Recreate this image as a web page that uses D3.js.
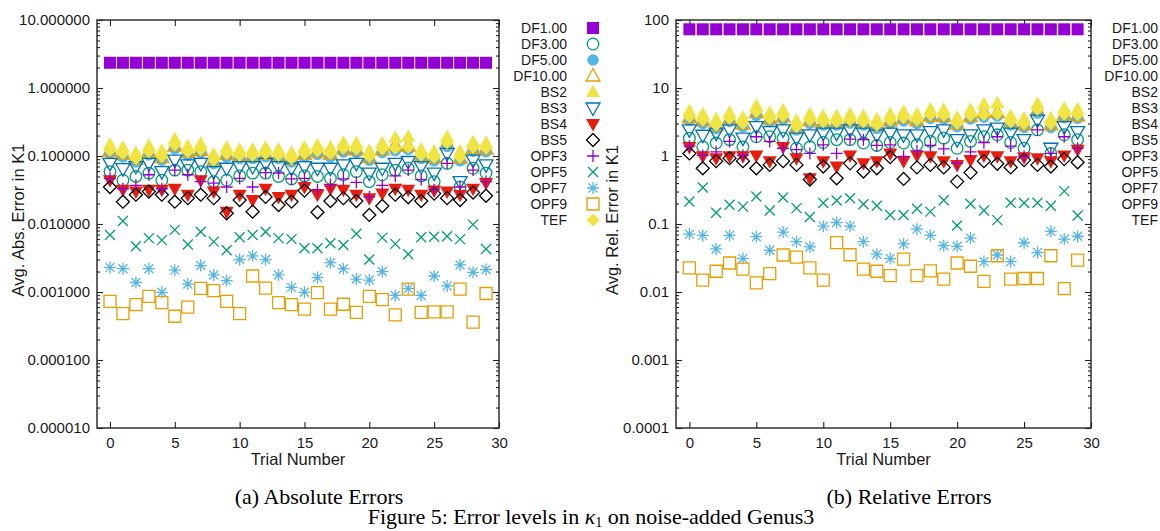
<!DOCTYPE html>
<html>
<head>
<meta charset="utf-8">
<script src="https://cdn.jsdelivr.net/npm/d3@7"></script>
<style>
body { margin: 0; background: #fff; }
svg text { font-family: "Liberation Sans", Arial, sans-serif; fill: #1a1a1a; }
.caption { font-family: "Liberation Serif", "Times New Roman", serif; font-size: 22px; fill: #000; }
</style>
</head>
<body>
<svg id="chart" width="1160" height="531"></svg>
<script>
// trial numbers on the x axis
const trials = [0,1,2,3,4,5,6,7,8,9,10,11,12,13,14,15,16,17,18,19,20,21,22,23,24,25,26,27,28,29];
const xTicks = [0,5,10,15,20,25,30];
const absTicks = [0.00001,0.0001,0.001,0.01,0.1,1,10];
const relTicks = [0.0001,0.001,0.01,0.1,1,10,100];
const seriesNames = ['DF1.00','DF3.00','DF5.00','DF10.00','BS2','BS3','BS4','BS5','OPF3','OPF5','OPF7','OPF9','TEF'];

// (a) average absolute error
const absDF1 = [2.35,2.35,2.35,2.35,2.35,2.35,2.35,2.35,2.35,2.35,2.35,2.35,2.35,2.35,2.35,2.35,2.35,2.35,2.35,2.35,2.35,2.35,2.35,2.35,2.35,2.35,2.35,2.35,2.35,2.35];
const absDF3 = [0.059,0.044,0.050,0.056,0.044,0.062,0.062,0.059,0.042,0.044,0.051,0.056,0.056,0.050,0.046,0.051,0.050,0.047,0.053,0.059,0.042,0.053,0.062,0.066,0.051,0.042,0.078,0.035,0.066,0.056];
const absDF5 = [0.109,0.097,0.082,0.104,0.087,0.128,0.103,0.112,0.078,0.097,0.092,0.092,0.098,0.092,0.082,0.097,0.106,0.097,0.115,0.113,0.087,0.113,0.120,0.125,0.092,0.085,0.138,0.085,0.118,0.116];
const absDF10 = [0.118,0.106,0.090,0.113,0.095,0.140,0.113,0.121,0.085,0.106,0.100,0.100,0.106,0.100,0.090,0.106,0.116,0.106,0.126,0.123,0.095,0.123,0.142,0.140,0.100,0.093,0.152,0.093,0.129,0.126];
const absBS2 = [0.148,0.133,0.112,0.140,0.119,0.176,0.140,0.152,0.106,0.133,0.125,0.125,0.133,0.125,0.112,0.133,0.144,0.133,0.157,0.154,0.119,0.154,0.186,0.192,0.125,0.116,0.190,0.116,0.161,0.157];
const absBS3 = [0.078,0.065,0.070,0.078,0.059,0.087,0.074,0.078,0.059,0.066,0.070,0.070,0.078,0.070,0.066,0.070,0.066,0.066,0.074,0.078,0.056,0.066,0.078,0.083,0.070,0.056,0.109,0.042,0.087,0.074];
const absBS4 = [0.044,0.032,0.030,0.032,0.032,0.033,0.027,0.044,0.030,0.0152,0.027,0.0225,0.033,0.025,0.027,0.035,0.027,0.033,0.032,0.027,0.024,0.028,0.033,0.032,0.027,0.031,0.030,0.027,0.033,0.040];
const absBS5 = [0.035,0.0213,0.027,0.030,0.027,0.0213,0.024,0.027,0.024,0.0144,0.0225,0.0152,0.025,0.019,0.0213,0.031,0.0149,0.0218,0.024,0.0218,0.0136,0.0184,0.027,0.0247,0.0218,0.028,0.024,0.0225,0.029,0.026];
const absOPF3 = [0.047,0.033,0.037,0.053,0.033,0.062,0.053,0.042,0.040,0.035,0.047,0.035,0.057,0.056,0.046,0.047,0.032,0.038,0.046,0.041,0.025,0.037,0.051,0.062,0.045,0.032,0.078,0.035,0.062,0.042];
const absOPF5 = [0.0069,0.0111,0.0047,0.0062,0.0058,0.0082,0.0050,0.0077,0.0055,0.0041,0.0064,0.0069,0.0077,0.0062,0.0060,0.0044,0.0044,0.0052,0.0049,0.0072,0.0030,0.0063,0.0051,0.0036,0.0064,0.0065,0.0066,0.0060,0.0098,0.0043];
const absOPF7 = [0.0023,0.0022,0.00138,0.0022,0.00099,0.0021,0.00131,0.00245,0.00178,0.00147,0.0030,0.0034,0.0030,0.00178,0.00117,0.00099,0.00163,0.0027,0.0022,0.00155,0.0015,0.0020,0.00089,0.00113,0.00089,0.00172,0.00123,0.0025,0.00195,0.00214];
const absOPF9 = [0.00073,0.00048,0.00065,0.00086,0.0007,0.00044,0.0006,0.00113,0.00105,0.00073,0.00048,0.00172,0.00114,0.0007,0.00065,0.00056,0.00098,0.00056,0.00066,0.0005,0.00086,0.00077,0.00046,0.0011,0.0005,0.00051,0.00051,0.0011,0.00036,0.00095];
const absTEF = [0.122,0.109,0.092,0.116,0.098,0.145,0.116,0.125,0.087,0.109,0.103,0.103,0.109,0.103,0.092,0.109,0.119,0.109,0.130,0.127,0.098,0.127,0.130,0.134,0.103,0.096,0.157,0.096,0.133,0.130];

// (b) average relative error
const relDF1 = [73,73,73,73,73,73,73,73,73,73,73,73,73,73,73,73,73,73,73,73,73,73,73,73,73,73,73,73,73,73];
const relDF3 = [1.83,1.36,1.55,1.74,1.36,1.92,1.92,1.83,1.30,1.36,1.58,1.74,1.74,1.55,1.43,1.58,1.55,1.46,1.64,1.83,1.30,1.64,1.92,2.05,1.58,1.30,2.42,1.09,2.05,1.74];
const relDF5 = [3.38,3.01,2.54,3.22,2.70,3.97,3.19,3.47,2.42,3.01,2.85,2.85,3.04,2.85,2.54,3.01,3.29,3.01,3.57,3.50,2.70,3.50,3.72,3.88,2.85,2.64,4.28,2.64,3.66,3.60];
const relDF10 = [3.66,3.29,2.79,3.50,2.95,4.34,3.50,3.75,2.64,3.29,3.10,3.10,3.29,3.10,2.79,3.29,3.60,3.29,3.91,3.81,2.95,3.81,4.40,4.34,3.10,2.88,4.71,2.88,4.00,3.91];
const relBS2 = [4.59,4.12,3.47,4.34,3.69,5.46,4.34,4.71,3.29,4.12,3.88,3.88,4.12,3.88,3.47,4.12,4.46,4.12,4.87,4.77,3.69,4.77,5.77,5.95,3.88,3.60,5.89,3.60,4.99,4.87];
const relBS3 = [2.42,2.02,2.17,2.42,1.83,2.70,2.29,2.42,1.83,2.05,2.17,2.17,2.42,2.17,2.05,2.17,2.05,2.05,2.29,2.42,1.74,2.05,2.42,2.57,2.17,1.74,3.38,1.30,2.70,2.29];
const relBS4 = [1.36,0.99,0.93,0.99,0.99,1.02,0.84,1.36,0.93,0.47,0.84,0.70,1.02,0.78,0.84,1.09,0.84,1.02,0.99,0.84,0.74,0.87,1.02,0.99,0.84,0.96,0.93,0.84,1.02,1.24];
const relBS5 = [1.09,0.66,0.84,0.93,0.84,0.66,0.74,0.84,0.74,0.45,0.70,0.47,0.78,0.59,0.66,0.96,0.46,0.68,0.74,0.68,0.42,0.57,0.84,0.77,0.68,0.87,0.74,0.70,0.90,0.81];
const relOPF3 = [1.40,1.02,1.15,1.64,1.02,1.92,1.64,1.30,1.24,1.09,1.46,1.09,1.77,1.74,1.43,1.46,0.99,1.18,1.43,1.27,0.78,1.15,1.58,1.92,1.40,0.99,2.42,1.09,1.92,1.30];
const relOPF5 = [0.214,0.344,0.146,0.192,0.180,0.254,0.158,0.245,0.171,0.127,0.204,0.222,0.239,0.195,0.186,0.136,0.136,0.168,0.152,0.223,0.095,0.198,0.158,0.114,0.205,0.204,0.205,0.186,0.304,0.133];
const relOPF7 = [0.071,0.068,0.043,0.068,0.031,0.065,0.041,0.076,0.055,0.046,0.093,0.105,0.093,0.055,0.036,0.031,0.051,0.084,0.068,0.048,0.047,0.062,0.028,0.035,0.028,0.053,0.038,0.078,0.060,0.066];
const relOPF9 = [0.0226,0.0149,0.0202,0.0267,0.0217,0.0136,0.0186,0.0350,0.0326,0.0226,0.0149,0.0533,0.0353,0.0217,0.0202,0.0174,0.0304,0.0174,0.0205,0.0155,0.0267,0.0239,0.0143,0.0341,0.0155,0.0158,0.0158,0.0341,0.0112,0.0295];
const relTEF = [3.78,3.38,2.85,3.60,3.04,4.50,3.60,3.88,2.70,3.38,3.19,3.19,3.38,3.19,2.85,3.38,3.69,3.38,4.03,3.94,3.04,3.94,4.03,4.15,3.19,2.98,4.87,2.98,4.12,4.03];

// marker shapes, gnuplot style
const shapes = {
	sq: 'M-6,-6h12v12h-12Z',
	circ: 'M5.8,0A5.8,5.8 0 1,1 -5.8,0A5.8,5.8 0 1,1 5.8,0Z',
	triUp: 'M0,-7.5L7,5L-7,5Z',
	triDn: 'M0,7.5L7,-5L-7,-5Z',
	diam: 'M0,-6.5L6.5,0L0,6.5L-6.5,0Z',
	plus: 'M-6,0H6M0,-6V6',
	cross: 'M-5,-5L5,5M-5,5L5,-5',
	star: 'M-6,0H6M0,-6V6M-4.5,-4.5L4.5,4.5M-4.5,4.5L4.5,-4.5'
}

const series = [
	{ color: '#9400d3', shape: 'sq', fill: true, abs: absDF1, rel: relDF1 },
	{ color: '#009e73', shape: 'circ', fill: false, abs: absDF3, rel: relDF3 },
	{ color: '#56b4e9', shape: 'circ', fill: true, abs: absDF5, rel: relDF5 },
	{ color: '#e69f00', shape: 'triUp', fill: false, abs: absDF10, rel: relDF10 },
	{ color: '#f0e442', shape: 'triUp', fill: true, abs: absBS2, rel: relBS2 },
	{ color: '#0072b2', shape: 'triDn', fill: false, abs: absBS3, rel: relBS3 },
	{ color: '#e51e10', shape: 'triDn', fill: true, abs: absBS4, rel: relBS4 },
	{ color: '#000000', shape: 'diam', fill: false, abs: absBS5, rel: relBS5 },
	{ color: '#9400d3', shape: 'plus', fill: false, abs: absOPF3, rel: relOPF3 },
	{ color: '#009e73', shape: 'cross', fill: false, abs: absOPF5, rel: relOPF5 },
	{ color: '#56b4e9', shape: 'star', fill: false, abs: absOPF7, rel: relOPF7 },
	{ color: '#e69f00', shape: 'sq', fill: false, abs: absOPF9, rel: relOPF9 },
	{ color: '#f0e442', shape: 'diam', fill: true, abs: absTEF, rel: relTEF }
].map((s, i) => Object.assign(s, { name: seriesNames[i] }));

const svg = d3.select('#chart');

function styleMark(sel, s) {
	sel.attr('d', shapes[s.shape])
	.attr('fill', s.fill ? s.color : 'none')
	.attr('stroke', s.fill ? 'none' : s.color)
	.attr('stroke-width', 1.3)
}

function drawPanel(p) {

	const x = d3.scaleLinear().domain([-1, 30]).range([p.left, p.right]);
	const y = d3.scaleLog().domain(p.yDomain).range([428, 20]);

	const minor = y.ticks().filter(v => !p.ticks.some(t => Math.abs(t - v) / t < 1e-9));

	const g = svg.append('g');

	// left axis with labels
	g.append('g').attr('transform', `translate(${p.left},0)`)
	.call(d3.axisLeft(y).tickValues(p.ticks).tickFormat(p.fmt).tickSize(-6).tickPadding(7))
	.call(a => a.selectAll('text').style('font-size', '15px').attr('font-family', null))

	g.append('g').attr('transform', `translate(${p.left},0)`)
	.call(d3.axisLeft(y).tickValues(minor).tickFormat('').tickSize(-3))

	g.append('g').attr('transform', `translate(${p.right},0)`)
	.call(d3.axisRight(y).tickValues(p.ticks).tickFormat('').tickSize(-6))

	g.append('g').attr('transform', `translate(${p.right},0)`)
	.call(d3.axisRight(y).tickValues(minor).tickFormat('').tickSize(-3))

	g.append('g').attr('transform', 'translate(0,428)')
	.call(d3.axisBottom(x).tickValues(xTicks).tickSize(-6).tickPadding(9))
	.call(a => a.selectAll('text').style('font-size', '15px').attr('font-family', null))

	g.append('g').attr('transform', 'translate(0,20)')
	.call(d3.axisTop(x).tickValues(xTicks).tickFormat('').tickSize(-6))

	g.selectAll('.domain').remove();
	g.selectAll('.tick line').attr('stroke', '#222').attr('stroke-width', 1.1);

	g.append('rect')
	.attr('x', p.left)
	.attr('y', 20)
	.attr('width', p.right - p.left)
	.attr('height', 408)
	.attr('fill', 'none')
	.attr('stroke', '#222')
	.attr('stroke-width', 1.4)

	// axis titles
	g.append('text')
	.attr('transform', `translate(${p.titleX},220) rotate(-90)`)
	.attr('text-anchor', 'middle')
	.style('font-size', '16.5px')
	.text(p.yTitle)

	g.append('text')
	.attr('x', (p.left + p.right) / 2)
	.attr('y', 465)
	.attr('text-anchor', 'middle')
	.style('font-size', '16.5px')
	.text('Trial Number')

	// points, first series at the bottom
	series.forEach(s => {
		const vals = s[p.key];
		g.append('g')
		.selectAll('path')
		.data(trials)
		.join('path')
		.attr('transform', t => `translate(${x(t)},${y(vals[t])})`)
		.call(sel => styleMark(sel, s))
	})

	// key
	const key = g.append('g')
	.selectAll('g')
	.data(series)
	.join('g')
	.attr('transform', (s, i) => `translate(0,${28 + i * 16})`)

	key.append('text')
	.attr('x', p.keyX)
	.attr('dy', '0.35em')
	.attr('text-anchor', 'end')
	.style('font-size', '14px')
	.text(s => s.name)

	key.append('path')
	.attr('transform', `translate(${p.keyX + 26},0)`)
	.each(function(s) { styleMark(d3.select(this), s) })
}

drawPanel({ key: 'abs', left: 97, right: 499, yDomain: [0.00001, 10], ticks: absTicks, fmt: d3.format('.6f'), titleX: 24, yTitle: 'Avg. Abs. Error in K1', keyX: 567 });
drawPanel({ key: 'rel', left: 676, right: 1091, yDomain: [0.0001, 100], ticks: relTicks, fmt: d3.format('~g'), titleX: 618, yTitle: 'Avg. Rel. Error in K1', keyX: 1158 });

// captions
svg.append('text').attr('class', 'caption').attr('x', 319).attr('y', 504).attr('text-anchor', 'middle').text('(a) Absolute Errors');
svg.append('text').attr('class', 'caption').attr('x', 909).attr('y', 504).attr('text-anchor', 'middle').text('(b) Relative Errors');

const fig = svg.append('text').attr('class', 'caption').attr('x', 591).attr('y', 524).attr('text-anchor', 'middle');
fig.append('tspan').text('Figure 5: Error levels in ');
fig.append('tspan').style('font-style', 'italic').text('κ');
fig.append('tspan').attr('dy', 3).style('font-size', '14px').text('1');
fig.append('tspan').attr('dy', -3).text(' on noise-added Genus3');
</script>
</body>
</html>
